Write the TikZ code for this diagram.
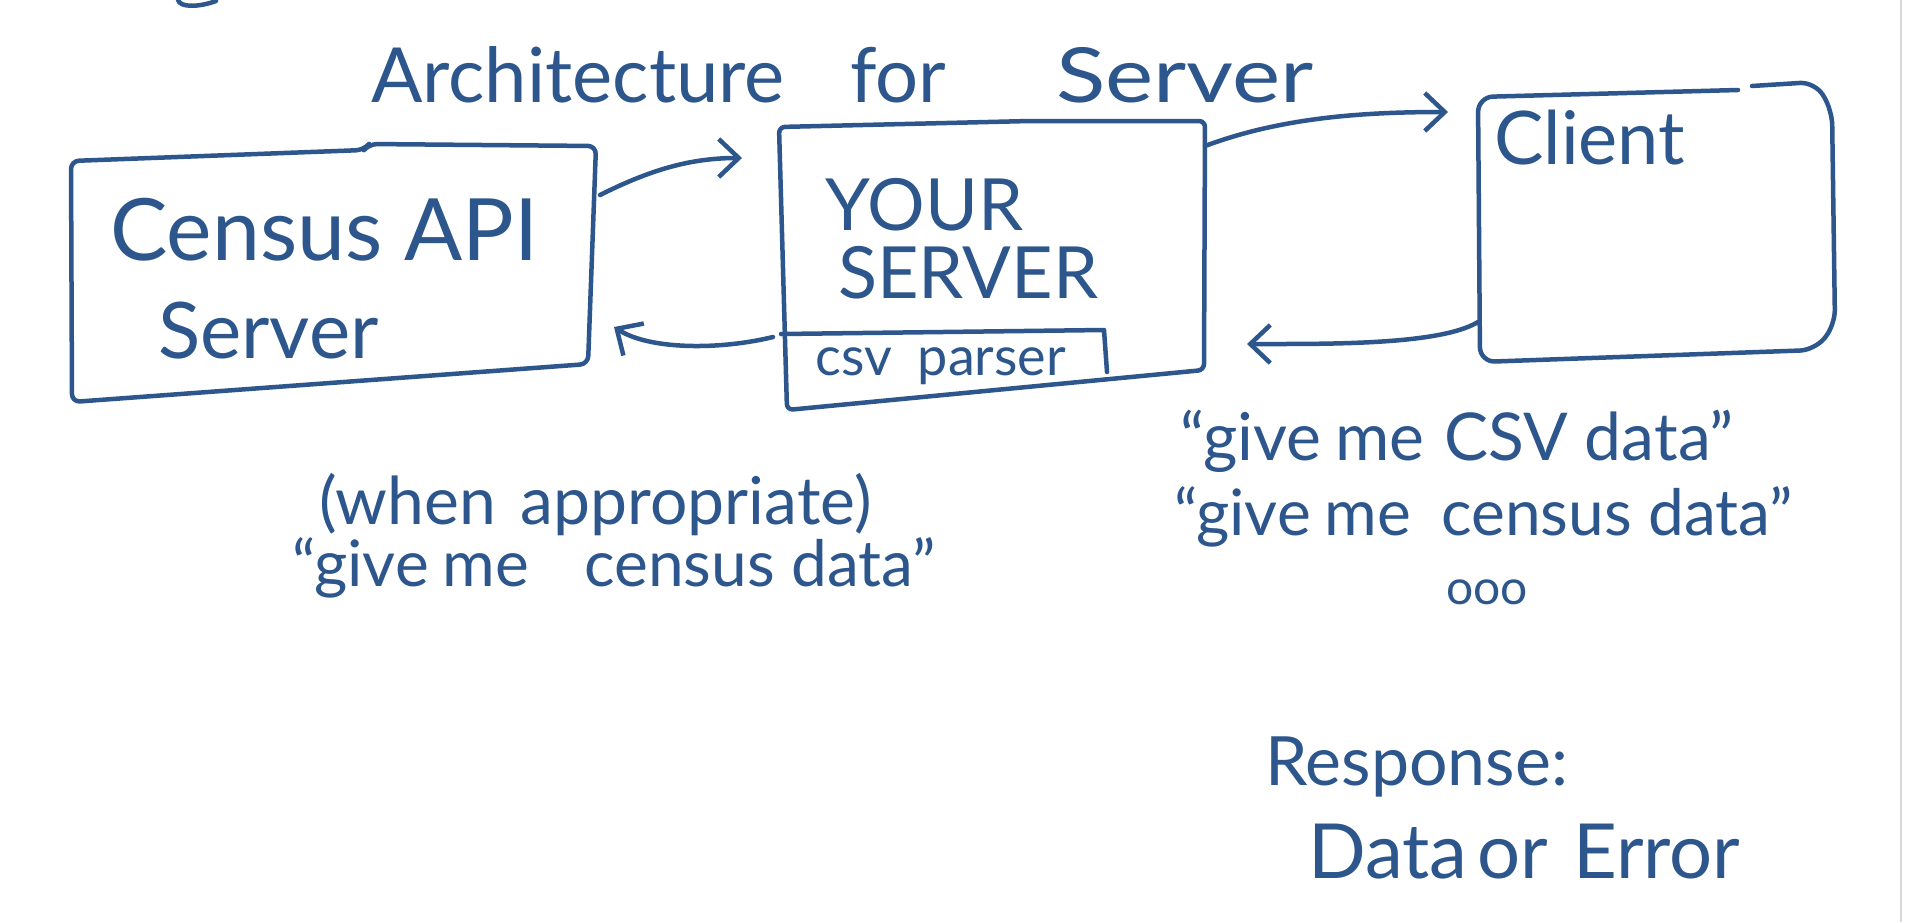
\documentclass[tikz,border=0pt]{standalone}
\usepackage{fontspec}
\setmainfont{Lato}
\usetikzlibrary{arrows.meta}
\definecolor{ink}{RGB}{44,86,140}
\begin{document}
\begin{tikzpicture}[x=1pt,y=-1pt,
  pen/.style={draw=ink, line width=4.5pt, line cap=round, line join=round},
  link/.style={pen, -{Straight Barb[length=20pt,width=38pt]}},
  hw/.style={text=ink, inner sep=0pt, anchor=base west},
]
\useasboundingbox[fill=white] (0,0) rectangle (1908,922);
% paper edge and stray stroke
\draw[gray!30, line width=2pt] (1901,0) -- (1901,922);
\draw[pen] (178,0) .. controls (180,8) and (200,7) .. (216,1);

% title
\node[hw, font=\fontsize{76}{80}\selectfont] (title) at (371,102) {Architecture\hspace{65pt}for\hspace{110pt}\scalebox{1.2}[1]{Server}};

% Census API server box
\coordinate (catl) at (71,161);
\coordinate (catr) at (596,146);
\coordinate (cabr) at (588,364);
\coordinate (cabl) at (72,402);
\draw[pen, rounded corners=8pt] (catl) -- (364,150) -- (369,144) -- (catr) -- (cabr) -- (cabl) -- cycle;
\node[hw, font=\fontsize{86}{92}\selectfont] (ca1) at (110,260) {Census API};
\node[hw, font=\fontsize{78}{84}\selectfont] (ca2) at (158,358) {Server};

% Your server box
\coordinate (ystl) at (779,127);
\coordinate (ystr) at (1205,121);
\coordinate (ysbr) at (1204,370);
\coordinate (ysbl) at (787,410);
\draw[pen, rounded corners=6pt] (ystl) -- (1030,121) -- (ystr) -- (ysbr) -- (ysbl) -- cycle;
\draw[pen] (781,334) -- (1104,330) -- (1107,372);
\node[hw, font=\fontsize{72}{78}\selectfont] (ys1) at (825,230) {YOUR};
\node[hw, font=\fontsize{72}{78}\selectfont] (ys2) at (838,298) {SERVER};
\node[hw, font=\fontsize{54}{60}\selectfont] (csv) at (815,375) {csv\hspace{26pt}parser};

% Client box
\draw[pen, rounded corners=15pt] (1738,90) -- (1478,97) -- (1480,362) -- (1815,350) -- (1835,325) -- (1832,110) -- (1815,82) -- (1752,86);
\node[hw, font=\fontsize{74}{80}\selectfont] (cl) at (1494,164) {Client};

% connector end points
\coordinate (a1s) at (600,195);
\coordinate (a1e) at (742,158);
\coordinate (a2s) at (1205,146);
\coordinate (a2e) at (1448,112);
\coordinate (a3s) at (1478,322);
\coordinate (a3e) at (1247,344);
\coordinate (a4s) at (773,337);
\coordinate (a4e) at (614,327);
\draw[link] (a1s) .. controls (650,170) and (690,158) .. (a1e);
\draw[link] (a2s) .. controls (1280,118) and (1360,112) .. (a2e);
\draw[link] (a3s) .. controls (1440,345) and (1330,344) .. (a3e);
\draw[link] (a4s) .. controls (720,350) and (650,350) .. (a4e);

% labels
\node[hw, font=\fontsize{66}{72}\selectfont] (l1) at (319,524) {(when\hspace{25pt}appropriate)};
\node[hw, font=\fontsize{64}{70}\selectfont] (l2) at (292,586) {“give\hspace{14pt}me\hspace{55pt}census data”};
\node[hw, font=\fontsize{66}{72}\selectfont] (r1) at (1180,460) {“give\hspace{14pt}me\hspace{20pt}CSV data”};
\node[hw, font=\fontsize{64}{70}\selectfont] (r2) at (1174,535) {“give\hspace{14pt}me\hspace{30pt}census data”};
\node[hw, font=\fontsize{48}{52}\selectfont] (r3) at (1446,604) {ooo};
\node[hw, font=\fontsize{68}{74}\selectfont] (resp) at (1265,785) {Response:};
\node[hw, font=\fontsize{76}{82}\selectfont] (de) at (1308,878) {Data\hspace{10pt}or\hspace{25pt}Error};
\end{tikzpicture}
\end{document}
